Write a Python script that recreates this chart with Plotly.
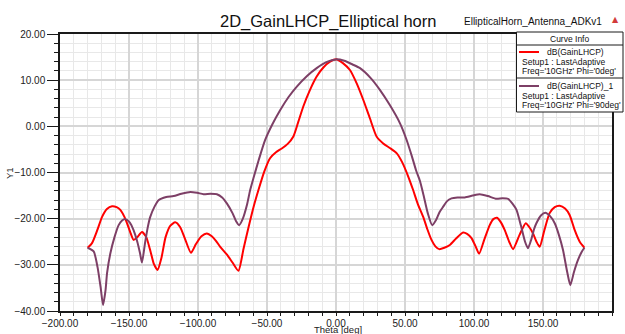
import plotly.graph_objects as go

# ---------------- data ----------------
theta_phi0 = [-180, -176.8, -173, -169.5, -166, -162.3, -159, -156.3, -153.5, -151.4, -149, -146.7, -144, -140.6,
              -137.5, -134.5, -132, -129.3, -126.5, -123.5, -120, -116.5, -113, -109.5, -105.1, -101.5, -97.5,
              -93.6, -90, -87, -83.9, -79, -75, -70.7, -67, -63.5, -59.5, -56.2, -52, -47.8, -43.5, -39.3, -35,
              -30.9, -27.5, -23.7, -19, -14, -9, -4.3, 0.5, 5, 10.1, 15, 19.8, 24.5, 29.4, 34.2, 39, 43.9, 48, 52,
              55.9, 59.5, 63.2, 66.2, 69.2, 72, 74.8, 78.5, 82.5, 87, 92.1, 95, 98.2, 101, 103.7, 107.5, 111.4,
              114, 116.7, 119.5, 122.3, 125.5, 128.3, 133, 137.5, 140, 142.8, 145.3, 147.6, 151, 154.8, 158.5,
              162.1, 166, 169.3, 173, 176.6, 180]
gain_phi0 = [-26.3, -25.3, -22.5, -19.6, -17.9, -17.3, -17.5, -18.1, -19.5, -21.0, -23.0, -24.6, -24.0, -22.9,
             -24.0, -27.0, -29.8, -31.1, -28.5, -24.0, -21.5, -20.8, -21.8, -24.3, -27.4, -25.5, -23.8,
             -23.2, -23.8, -24.8, -26.1, -27.8, -29.5, -31.3, -26.5, -22.0, -17.2, -13.8, -9.8, -6.9, -5.6, -4.8, -3.8,
             -2.2, 0.8, 4.3, 7.8, 10.8, 12.8, 14.0, 14.5, 13.7, 12.2, 9.3, 5.7, 1.8, -2.2, -3.7, -4.7, -5.8, -7.8, -10.6,
             -13.8, -17.0, -19.6, -22.3, -24.6, -26.0, -26.6, -26.3, -25.7, -24.3, -23.0, -23.3, -24.2, -25.9, -27.6, -24.5, -21.4,
             -20.1, -19.8, -20.8, -22.5, -25.0, -26.6, -23.5, -21.0, -21.8, -23.2, -25.0, -26.1, -22.5, -18.8, -17.5,
             -17.2, -17.8, -19.2, -22.5, -25.0, -26.3]

theta_phi90 = [-180, -175.6, -172.8, -170.5, -168.8, -167, -165.9, -163.5, -160.5, -157.5, -155, -152.7, -149.5,
               -146.7, -144, -142, -140.6, -138.5, -136.5, -134.6, -131.5, -128.6, -123, -117.7, -112, -105.6,
               -100.5, -96, -91, -86.3, -82.5, -79.1, -75, -72.5, -70.2, -67.5, -64.5, -62.2, -59.8, -56, -51.4,
               -46, -40.5, -34.5, -28.4, -21, -14, -7, 0, 6, 12, 17.4, 25, 31.8, 39, 46.3, 51, 55, 58, 60.8, 63.5,
               66.5, 69.7, 72.5, 75, 77.7, 80.5, 83.7, 88, 93.3, 99, 104.2, 110, 116.3, 120.5, 124.7, 128, 130.8,
               134, 137, 139.1, 141.5, 143.5, 145.2, 148.5, 151.7, 155, 158.5, 161.5, 164.5, 167.5, 169.8, 172.5,
               175.3, 178, 180]
gain_phi90 = [-26.3, -27.1, -30.5, -35.0, -38.7, -35.5, -31.8, -27.5, -24.0, -21.4, -20.4, -20.1, -20.8,
              -22.5, -25.0, -27.5, -29.5, -25.5, -22.0, -19.6, -17.4, -16.0, -15.3, -15.1, -14.6, -14.2,
              -14.4, -14.7, -14.6, -14.7, -15.4, -16.7, -18.8, -20.5, -21.4, -20.0, -17.0, -13.8, -11.2, -7.3, -3.0,
              0.5, 3.5, 6.3, 8.6, 10.9, 12.6, 13.9, 14.5, 14.2, 13.4, 12.6, 10.5, 7.9, 4.6, 0.7, -2.8, -6.5, -9.5, -11.8, -15.0,
              -18.8, -21.4, -20.3, -18.6, -17.4, -16.2, -15.6, -15.4, -15.4, -15.0, -14.7, -15.1, -15.7, -15.6, -15.7, -16.8, -18.1,
              -21.5, -25.0, -26.4, -24.5, -22.3, -21.0, -19.3, -18.7, -19.4, -21.0, -23.5, -26.8, -31.5, -34.4, -31.5,
              -29.0, -27.2, -26.3]

x_ticks = [-200, -150, -100, -50, 0, 50, 100, 150, 200]
y_ticks = [20, 10, 0, -10, -20, -30, -40]

title_text = "2D_GainLHCP_Elliptical horn"
subtitle_text = "EllipticalHorn_Antenna_ADKv1"
series_names = ["dB(GainLHCP)", "dB(GainLHCP)_1"]
series_setup = ["Setup1 : LastAdaptive", "Setup1 : LastAdaptive"]
series_freq = ["Freq='10GHz' Phi='0deg'", "Freq='10GHz' Phi='90deg'"]
colors = ["#FF0000", "#7D3F66"]

# ---------------- layout geometry (pixels) ----------------
W, H = 625, 334
L, R, T, B = 60, 13, 34, 23
PW = W - L - R
PH = H - T - B
FONT = "Liberation Sans, Arial, sans-serif"


def px(x):
    return (x - L) / PW


def py(y):
    return (H - B - y) / PH


fig = go.Figure()
fig.add_trace(go.Scatter(x=theta_phi0, y=gain_phi0, mode="lines",
                         line=dict(color=colors[0], width=2, shape="spline", smoothing=0.6),
                         name=series_names[0], showlegend=False))
fig.add_trace(go.Scatter(x=theta_phi90, y=gain_phi90, mode="lines",
                         line=dict(color=colors[1], width=2, shape="spline", smoothing=0.6),
                         name=series_names[1], showlegend=False))

axis_common = dict(
    automargin=False,
    showline=True, linecolor="#1a1a1a", linewidth=1.5, mirror=True,
    showgrid=True, gridcolor="#d6d6d6", gridwidth=1.5,
    zeroline=False, ticks="outside", tickcolor="#1a1a1a", tickwidth=1,
    tickfont=dict(family=FONT, size=10, color="#222222"),
    tickformat=".2f",
)

fig.update_layout(
    width=W, height=H,
    margin=dict(l=L, r=R, t=T, b=B, pad=0, autoexpand=False),
    paper_bgcolor="white", plot_bgcolor="white",
    xaxis=dict(range=[-200, 200], tickvals=x_ticks, ticklen=2,
               minor=dict(dtick=10, showgrid=True, gridcolor="#e8e8e8", gridwidth=1,
                          ticks="outside", ticklen=3, tickcolor="#1a1a1a"),
               **axis_common),
    yaxis=dict(range=[-40, 20], tickvals=y_ticks, ticklen=11,
               minor=dict(dtick=2, showgrid=True, gridcolor="#e8e8e8", gridwidth=1,
                          ticks="outside", ticklen=4, tickcolor="#1a1a1a"),
               **axis_common),
    showlegend=False,
)

ann = []
ann.append(dict(text=title_text, x=px(218), y=py(21), xref="paper", yref="paper",
                xanchor="left", yanchor="middle", showarrow=False,
                font=dict(family=FONT, size=16.5, color="#111111")))
ann.append(dict(text=subtitle_text, x=px(462), y=py(21), xref="paper", yref="paper",
                xanchor="left", yanchor="middle", showarrow=False,
                font=dict(family=FONT, size=10, color="#111111")))
ann.append(dict(text="▲", x=px(615), y=py(20), xref="paper", yref="paper",
                xanchor="center", yanchor="middle", showarrow=False,
                font=dict(family="DejaVu Sans", size=8, color="#d23a3a")))
ann.append(dict(text="Theta [deg]", x=px(338), y=py(329.5), xref="paper", yref="paper",
                xanchor="center", yanchor="middle", showarrow=False,
                font=dict(family=FONT, size=9.5, color="#222222")))
ann.append(dict(text="Y1", x=px(9), y=py(173), xref="paper", yref="paper",
                xanchor="center", yanchor="middle", showarrow=False, textangle=-90,
                font=dict(family=FONT, size=9.5, color="#222222")))

# legend box ("Curve Info")
bx0, bx1, by0, by1 = 516.5, 623, 32, 112
shapes = [
    dict(type="rect", xref="paper", yref="paper", x0=px(bx0), x1=px(bx1), y0=py(by1), y1=py(by0),
         line=dict(color="#1a1a1a", width=1), fillcolor="white", layer="above"),
    dict(type="line", xref="paper", yref="paper", x0=px(bx0), x1=px(bx1), y0=py(45), y1=py(45),
         line=dict(color="#1a1a1a", width=1), layer="above"),
    dict(type="line", xref="paper", yref="paper", x0=px(bx0), x1=px(bx1), y0=py(78), y1=py(78),
         line=dict(color="#1a1a1a", width=1), layer="above"),
]
ann.append(dict(text="Curve Info", x=px((bx0 + bx1) / 2), y=py(39), xref="paper", yref="paper",
                xanchor="center", yanchor="middle", showarrow=False,
                font=dict(family=FONT, size=8.5, color="#111111")))
entry_top = [52, 86]
for i in range(2):
    yy = entry_top[i]
    shapes.append(dict(type="line", xref="paper", yref="paper", x0=px(519), x1=px(539),
                       y0=py(yy), y1=py(yy), line=dict(color=colors[i], width=2), layer="above"))
    ann.append(dict(text=series_names[i], x=px(545), y=py(yy), xref="paper", yref="paper",
                    xanchor="left", yanchor="middle", showarrow=False,
                    font=dict(family=FONT, size=8.5, color="#111111")))
    ann.append(dict(text=series_setup[i], x=px(519.5), y=py(yy + 9.7), xref="paper", yref="paper",
                    xanchor="left", yanchor="middle", showarrow=False,
                    font=dict(family=FONT, size=8.5, color="#111111")))
    ann.append(dict(text=series_freq[i], x=px(519.5), y=py(yy + 19), xref="paper", yref="paper",
                    xanchor="left", yanchor="middle", showarrow=False,
                    font=dict(family=FONT, size=8.5, color="#111111")))

fig.update_layout(annotations=ann, shapes=shapes)
fig.write_html("out.html")
